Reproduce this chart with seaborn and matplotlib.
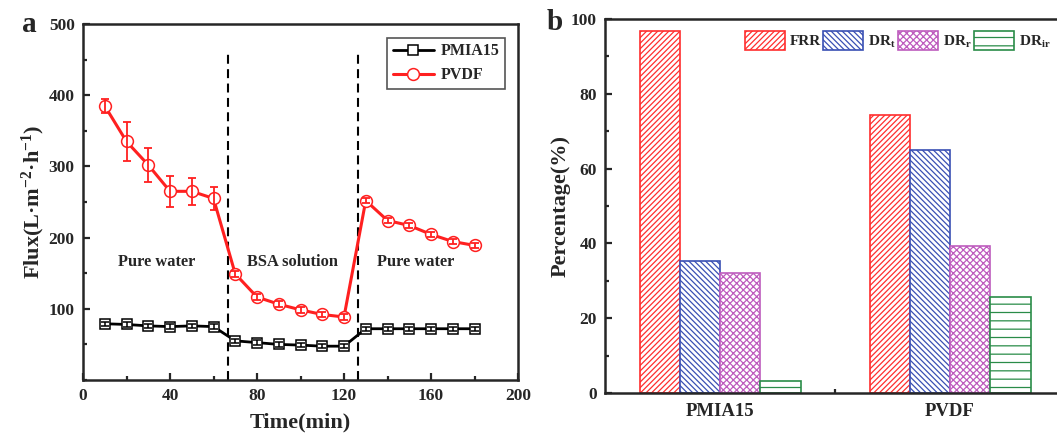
import matplotlib
matplotlib.use("Agg")
import matplotlib.pyplot as plt
import matplotlib.patches as mpatches
from matplotlib.ticker import MultipleLocator
import seaborn as sns
import pandas as pd

# ---- flux data (panel a) ----
time_min = [10, 20, 30, 40, 50, 60, 70, 80, 90, 100, 110, 120,
            130, 140, 150, 160, 170, 180]
flux_pmia15 = [79, 78, 76, 75, 76, 75, 55, 52.5, 50, 49, 47.5, 47.5,
               72, 72, 72, 72, 72, 72]
err_pmia15 = [3, 3, 3, 3, 3, 3, 3, 3, 3, 3, 3, 3, 3, 3, 3, 3, 3, 3]
flux_pvdf = [385, 335, 302, 265, 265, 255, 149, 116.5, 106.5, 98.5, 92, 88.5,
             252, 224, 217, 204.5, 194.5, 189]
err_pvdf = [10, 27, 24, 22, 19, 16, 4, 4, 4, 4, 4, 4, 4, 4, 4, 4, 4, 4]
phase_bounds = [66.5, 126.5]
phase_labels = ["Pure water", "BSA solution", "Pure water"]
phase_label_x = [34, 96.5, 153]
phase_label_y = 166

# ---- fouling data (panel b) ----
membranes = ["PMIA15", "PVDF"]
metrics = ["FRR", "DRt", "DRr", "DRir"]
frr = [96.7, 74.2]
dr_t = [35.3, 65.1]
dr_r = [32.0, 39.3]
dr_ir = [3.3, 25.8]
metric_labels = ["FRR", r"DR$_\mathrm{t}$", r"DR$_\mathrm{r}$", r"DR$_\mathrm{ir}$"]
metric_colors = ["#FF2E2E", "#3A50B4", "#BE5CBE", "#2A8C48"]
metric_hatches = ["//////", "\\\\\\\\\\\\", "xxxxx", "--"]

sns.set_style("ticks")
plt.rcParams.update({
    "font.family": ["Liberation Serif", "DejaVu Serif"],
    "font.weight": "bold",
    "axes.labelweight": "bold",
    "mathtext.fontset": "custom",
    "mathtext.rm": "Liberation Serif:bold",
    "mathtext.it": "Liberation Serif:bold",
    "mathtext.bf": "Liberation Serif:bold",
    "axes.linewidth": 1.8,
    "xtick.direction": "in",
    "ytick.direction": "in",
    "xtick.major.size": 5,
    "ytick.major.size": 5,
    "xtick.minor.size": 3,
    "ytick.minor.size": 3,
    "xtick.major.width": 1.6,
    "ytick.major.width": 1.6,
    "xtick.minor.width": 1.6,
    "ytick.minor.width": 1.6,
    "hatch.linewidth": 0.9,
})

fig = plt.figure(figsize=(10.57, 4.33), dpi=100)
ax1 = fig.add_axes([83 / 1057, 1 - 380 / 433, 435 / 1057, 356 / 433])
ax2 = fig.add_axes([605 / 1057, 1 - 393 / 433, 460 / 1057, 374 / 433])

# ---- panel a: flux vs time ----
sns.lineplot(x=time_min, y=flux_pmia15, ax=ax1, color="black", lw=2,
             marker="s", markersize=7, markerfacecolor="white",
             markeredgecolor="black", markeredgewidth=1.1, label="PMIA15")
sns.lineplot(x=time_min, y=flux_pvdf, ax=ax1, color="#FF2020", lw=2.2,
             marker="o", markersize=8.5, markerfacecolor="white",
             markeredgecolor="#FF2020", markeredgewidth=1.1, label="PVDF")
ax1.errorbar(time_min, flux_pmia15, yerr=err_pmia15, fmt="none",
             ecolor="black", elinewidth=1.1, capsize=3, capthick=1.1, zorder=4)
ax1.errorbar(time_min, flux_pvdf, yerr=err_pvdf, fmt="none",
             ecolor="#FF2020", elinewidth=1.3, capsize=3.2, capthick=1.3, zorder=4)
ax1.vlines(phase_bounds, 0, 463, colors="black", lw=1.5,
           linestyles=(0, (4.3, 2.6)), zorder=1)
for lx, txt in zip(phase_label_x, phase_labels):
    ax1.text(lx, phase_label_y, txt, ha="center", va="center",
             fontsize=11.8, fontweight="bold")

ax1.set_xlim(0, 200)
ax1.set_ylim(0, 500)
ax1.set_xticks([0, 40, 80, 120, 160, 200])
ax1.xaxis.set_minor_locator(MultipleLocator(20))
ax1.set_yticks([100, 200, 300, 400, 500])
ax1.yaxis.set_minor_locator(MultipleLocator(50))
ax1.tick_params(labelsize=12.5, pad=6)
ax1.set_xlabel("Time(min)", fontsize=16, labelpad=6)
ax1.set_ylabel("Flux(L·m$^{-2}$·h$^{-1}$)", fontsize=16, labelpad=1)
leg1 = ax1.legend(loc="upper right", bbox_to_anchor=(0.970, 0.961),
                  borderaxespad=0, fontsize=11.5, frameon=True, fancybox=False,
                  edgecolor="#555555", framealpha=1, handlelength=2.6,
                  handletextpad=0.4, borderpad=0.35, labelspacing=0.5)
leg1.get_frame().set_linewidth(1.2)
fig.text(29 / 1057, 1 - 24 / 433, "a", fontsize=21, fontweight="bold",
         ha="center", va="center")

# ---- panel b: fouling percentages ----
bars = pd.DataFrame({
    "membrane": membranes * 4,
    "metric": sum([[m] * 2 for m in metrics], []),
    "value": frr + dr_t + dr_r + dr_ir,
})
sns.barplot(data=bars, x="membrane", y="value", hue="metric",
            hue_order=metrics, order=membranes, width=0.7, gap=0,
            ax=ax2, legend=False)
for cont, col, hatch in zip(ax2.containers, metric_colors, metric_hatches):
    for patch in cont:
        patch.set_facecolor("white")
        patch.set_edgecolor(col)
        patch.set_hatch(hatch)
        patch.set_linewidth(1.2)

ax2.set_xlim(-0.5, 1.5)
ax2.set_ylim(0, 100)
ax2.set_yticks([0, 20, 40, 60, 80, 100])
ax2.yaxis.set_minor_locator(MultipleLocator(10))
ax2.set_xticks([0, 1])
ax2.set_xticks([0.5], minor=True)
ax2.tick_params(labelsize=12.5, pad=6)
ax2.tick_params(axis="x", labelsize=13.5, pad=7)
ax2.tick_params(top=False, right=False, which="both")
ax2.set_xlabel("")
ax2.set_ylabel("Percentage(%)", fontsize=16, labelpad=0)

handles = [mpatches.Patch(facecolor="white", edgecolor=c, hatch=h, lw=1.2)
           for c, h in zip(metric_colors, metric_hatches)]
ax2.legend(handles, metric_labels, ncol=4, loc="upper right",
           bbox_to_anchor=(1054 / 1057, 1 - 28 / 433),
           bbox_transform=fig.transFigure, frameon=False, fontsize=11,
           handlelength=2.6, handleheight=1.5, handletextpad=0.35,
           columnspacing=0.15, borderpad=0.2, borderaxespad=0)
fig.text(555 / 1057, 1 - 22 / 433, "b", fontsize=21, fontweight="bold",
         ha="center", va="center")

for ax in (ax1, ax2):
    for side in ("top", "right", "left", "bottom"):
        ax.spines[side].set_visible(True)
        ax.spines[side].set_linewidth(1.8)

fig.savefig("out.png", dpi=100)
